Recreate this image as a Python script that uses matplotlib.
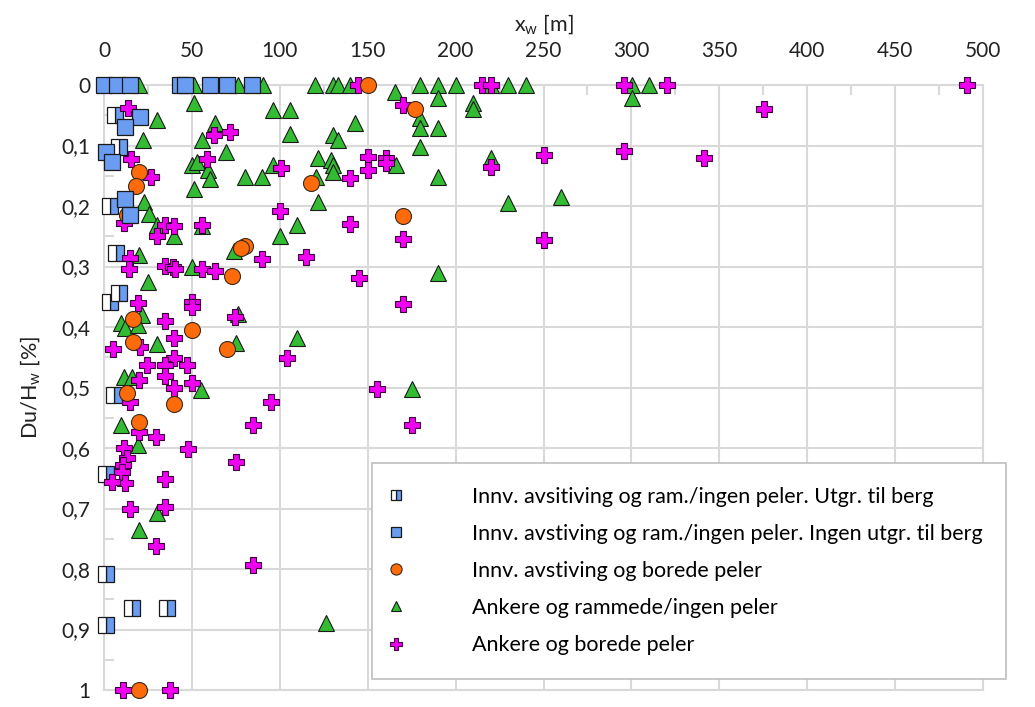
import matplotlib
matplotlib.use('Agg')
import matplotlib.pyplot as plt
from matplotlib.ticker import MultipleLocator, FuncFormatter

plt.rcParams['font.family'] = ['Lato', 'DejaVu Sans']
plt.rcParams['mathtext.fontset'] = 'custom'
plt.rcParams['mathtext.rm'] = 'Lato'
plt.rcParams['mathtext.it'] = 'Lato:italic'

# --- data (x_w [m], Du/H_w [%]) ---
utgr_x = [6, 8.5, 3.5, 7, 8.5, 3.5, 5.7, 1, 1, 16, 36, 1]
utgr_y = [0.05, 0.102, 0.2, 0.278, 0.344, 0.358, 0.513, 0.643, 0.808, 0.864, 0.864, 0.893]

ingen_x = [0, 7.4, 14.8, 43, 46, 60, 70, 84, 20.5, 12, 1, 4.5, 12, 15]
ingen_y = [0, 0, 0, 0, 0, 0, 0, 0, 0.053, 0.07, 0.11, 0.127, 0.188, 0.215]

bor_x = [150, 177, 20, 18, 118, 170, 13, 80, 78, 73, 16.5, 50, 16.5, 70, 13, 40, 20, 20]
bor_y = [0, 0.04, 0.144, 0.167, 0.162, 0.216, 0.215, 0.266, 0.27, 0.316, 0.387, 0.405,
         0.425, 0.436, 0.509, 0.527, 0.557, 1.0]

ank_ram_x = [20, 51, 76, 90.5, 51, 96, 106, 30, 63, 22, 56, 69.5, 50, 53, 59, 60, 51, 80,
             90, 96, 23, 25.6, 30, 40, 56, 100, 20, 50, 25, 76, 74, 9.7, 12, 21.6, 19.6,
             30, 75, 11.4, 16, 55, 9.7, 19.6, 30, 20, 120, 130, 133, 140, 165.6, 180, 190,
             200, 220, 230, 240, 190, 210, 210, 143, 106, 130, 133, 180, 180, 190, 180,
             122, 129, 130, 130, 166, 120.6, 190, 220, 122, 230, 260, 110, 190, 110, 175,
             300.5, 310, 300.5, 126]
ank_ram_y = [0, 0, 0, 0, 0.03, 0.041, 0.041, 0.058, 0.062, 0.09, 0.091, 0.11, 0.132, 0.127,
             0.14, 0.155, 0.172, 0.152, 0.152, 0.132, 0.193, 0.213, 0.231, 0.249, 0.233,
             0.249, 0.281, 0.301, 0.326, 0.378, 0.274, 0.393, 0.402, 0.38, 0.397, 0.428,
             0.426, 0.482, 0.482, 0.504, 0.562, 0.595, 0.707, 0.735, 0, 0, 0, 0, 0.012, 0,
             0, 0, 0, 0, 0, 0.022, 0.03, 0.04, 0.063, 0.081, 0.083, 0.091, 0.055, 0.071,
             0.071, 0.102, 0.121, 0.124, 0.132, 0.144, 0.132, 0.152, 0.152, 0.121, 0.193,
             0.195, 0.185, 0.232, 0.311, 0.418, 0.503, 0, 0, 0.022, 0.889]

ank_bor_x = [13.7, 62.6, 71.7, 15.4, 27, 58.6, 100.7, 100, 11.4, 34.7, 40, 30, 56, 14.8, 14,
             34.7, 39, 40.5, 56, 63, 90, 19.6, 50, 50, 34.7, 74.5, 40, 5, 20.5, 104, 40,
             24.5, 34.7, 47, 34.7, 50, 20, 40, 14.8, 95, 85, 20, 29.6, 47.8, 11.4, 13, 11,
             10, 12, 4.5, 75, 34.7, 14.8, 34.7, 29.6, 85, 10.8, 37.6, 144.5, 170, 215, 220,
             150, 150, 160.5, 160.5, 140, 220, 250, 140, 170, 250, 115, 145, 170, 155, 175,
             295.5, 320, 490.6, 375.6, 295.5, 341]
ank_bor_y = [0.038, 0.083, 0.078, 0.122, 0.152, 0.122, 0.137, 0.208, 0.228, 0.231, 0.233,
             0.25, 0.232, 0.286, 0.304, 0.299, 0.3, 0.304, 0.304, 0.307, 0.288, 0.361, 0.358,
             0.367, 0.39, 0.384, 0.418, 0.436, 0.433, 0.451, 0.451, 0.463, 0.463, 0.463,
             0.481, 0.493, 0.488, 0.5, 0.524, 0.524, 0.562, 0.573, 0.582, 0.602, 0.6, 0.617,
             0.628, 0.64, 0.658, 0.656, 0.623, 0.651, 0.701, 0.697, 0.762, 0.793, 1.0, 1.0,
             0, 0.033, 0, 0, 0.119, 0.14, 0.121, 0.129, 0.154, 0.135, 0.116, 0.23, 0.254,
             0.256, 0.284, 0.319, 0.362, 0.502, 0.562, 0, 0, 0, 0.04, 0.109, 0.12]

labels = ['Innv. avsitiving og ram./ingen peler. Utgr. til berg',
          'Innv. avstiving og ram./ingen peler. Ingen utgr. til berg',
          'Innv. avstiving og borede peler',
          'Ankere og rammede/ingen peler',
          'Ankere og borede peler']

c_blue = '#6a9cf2'
c_orange = '#ff6a0a'
c_green = '#33bb33'
c_mag = '#f000f0'
c_grid = '#d9d9d9'
c_text = '#222222'

fig = plt.figure(figsize=(10.35, 7.07), dpi=100)
ax = fig.add_axes([0.1005, 0.024, 0.8493, 0.8557])

ms = 11
l_ram, = ax.plot(ank_ram_x, ank_ram_y, ls='none', marker='^', ms=ms, mfc=c_green,
                 mec='#1a1a1a', mew=0.8, clip_on=False, zorder=3, label=labels[3])
l_utgr, = ax.plot(utgr_x, utgr_y, ls='none', marker='s', ms=ms, mfc=c_blue,
                  mfcalt='white', fillstyle='right', mec='#1a1a1a', mew=0.9,
                  clip_on=False, zorder=4, label=labels[0])
l_ankb, = ax.plot(ank_bor_x, ank_bor_y, ls='none', marker='P', ms=ms + 1, mfc=c_mag,
                  mec='#3a003a', mew=0.8, clip_on=False, zorder=5, label=labels[4])
l_bor, = ax.plot(bor_x, bor_y, ls='none', marker='o', ms=ms + 0.5, mfc=c_orange,
                 mec='#3a2a1a', mew=0.8, clip_on=False, zorder=6, label=labels[2])
l_ingen, = ax.plot(ingen_x, ingen_y, ls='none', marker='s', ms=ms, mfc=c_blue,
                   mec='#1a1a1a', mew=0.9, clip_on=False, zorder=7, label=labels[1])

ax.set_xlim(0, 500)
ax.set_ylim(1, 0)
ax.xaxis.tick_top()
ax.xaxis.set_label_position('top')
ax.xaxis.set_major_locator(MultipleLocator(50))
ax.xaxis.set_minor_locator(MultipleLocator(25))
ax.yaxis.set_major_locator(MultipleLocator(0.1))
ax.yaxis.set_minor_locator(MultipleLocator(0.05))
ax.yaxis.set_major_formatter(FuncFormatter(
    lambda v, p: '0' if abs(v) < 1e-9 else ('1' if abs(v - 1) < 1e-9 else ('%.1f' % v).replace('.', ','))))

ax.grid(True, which='major', color=c_grid, lw=1.5, zorder=0)
ax.set_axisbelow(True)
for s in ax.spines.values():
    s.set_color(c_grid)
    s.set_linewidth(1.5)
ax.tick_params(which='both', direction='in', colors=c_grid, labelcolor=c_text,
               labelsize=15)
ax.tick_params(axis='x', which='major', length=0, pad=17)
ax.tick_params(axis='y', which='major', length=0, pad=10)
ax.tick_params(which='minor', length=7, width=1.5)

ax.set_xlabel(r'x$_\mathrm{w}$ [m]', fontsize=15.5, color=c_text, labelpad=8)
ax.set_ylabel(r'Du/H$_\mathrm{w}$ [%]', fontsize=15.5, color=c_text, labelpad=14)

leg = fig.legend(handles=[l_utgr, l_ingen, l_bor, l_ram, l_ankb], labels=labels,
                 loc='lower left', bbox_to_anchor=(0.359, 0.040), fontsize=15.5,
                 markerscale=0.7, frameon=True, fancybox=False, edgecolor='#bfbfbf',
                 framealpha=1, borderpad=1.1, labelspacing=0.79, handlelength=0.1,
                 handletextpad=3.45, borderaxespad=0)
leg.get_frame().set_linewidth(1.2)

fig.savefig('out.png', dpi=100)
